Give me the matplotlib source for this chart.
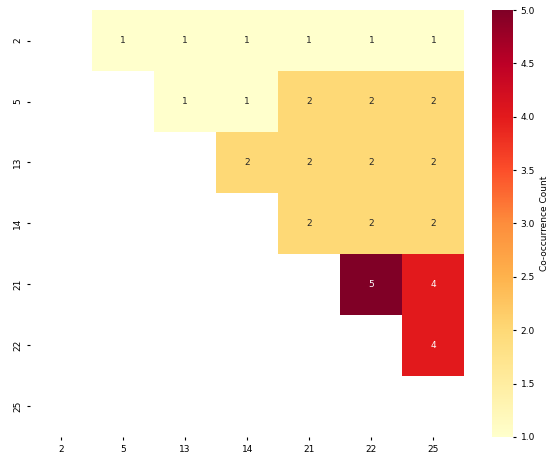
import numpy as np
import matplotlib.pyplot as plt
import seaborn as sns

labels = ["2", "5", "13", "14", "21", "22", "25"]
counts = [
    [0, 1, 1, 1, 1, 1, 1],
    [0, 0, 1, 1, 2, 2, 2],
    [0, 0, 0, 2, 2, 2, 2],
    [0, 0, 0, 0, 2, 2, 2],
    [0, 0, 0, 0, 0, 5, 4],
    [0, 0, 0, 0, 0, 0, 4],
    [0, 0, 0, 0, 0, 0, 0],
]

data = np.array(counts)
mask = np.tril(np.ones_like(data, dtype=bool))

fig = plt.figure(figsize=(5.5, 4.57), dpi=100)
ax = fig.add_axes([0.0545, 0.044, 0.79, 0.934])
cax = fig.add_axes([0.8945, 0.044, 0.038, 0.934])

sns.heatmap(data, mask=mask, cmap="YlOrRd", vmin=1, vmax=5, annot=True, fmt="d",
            annot_kws={"fontsize": 6.5}, xticklabels=labels, yticklabels=labels,
            ax=ax, cbar_ax=cax, cbar_kws={"label": "Co-occurrence Count"})

ax.tick_params(labelsize=6.5, length=2)
ax.set_yticklabels(labels, rotation=90, va="center")
cax.tick_params(labelsize=6.5, length=2)
cax.yaxis.label.set_size(6.5)
cax.set_yticks([1.0, 1.5, 2.0, 2.5, 3.0, 3.5, 4.0, 4.5, 5.0])
cax.set_yticklabels([f"{v:.1f}" for v in [1.0, 1.5, 2.0, 2.5, 3.0, 3.5, 4.0, 4.5, 5.0]])

fig.savefig("out.png", dpi=100)
